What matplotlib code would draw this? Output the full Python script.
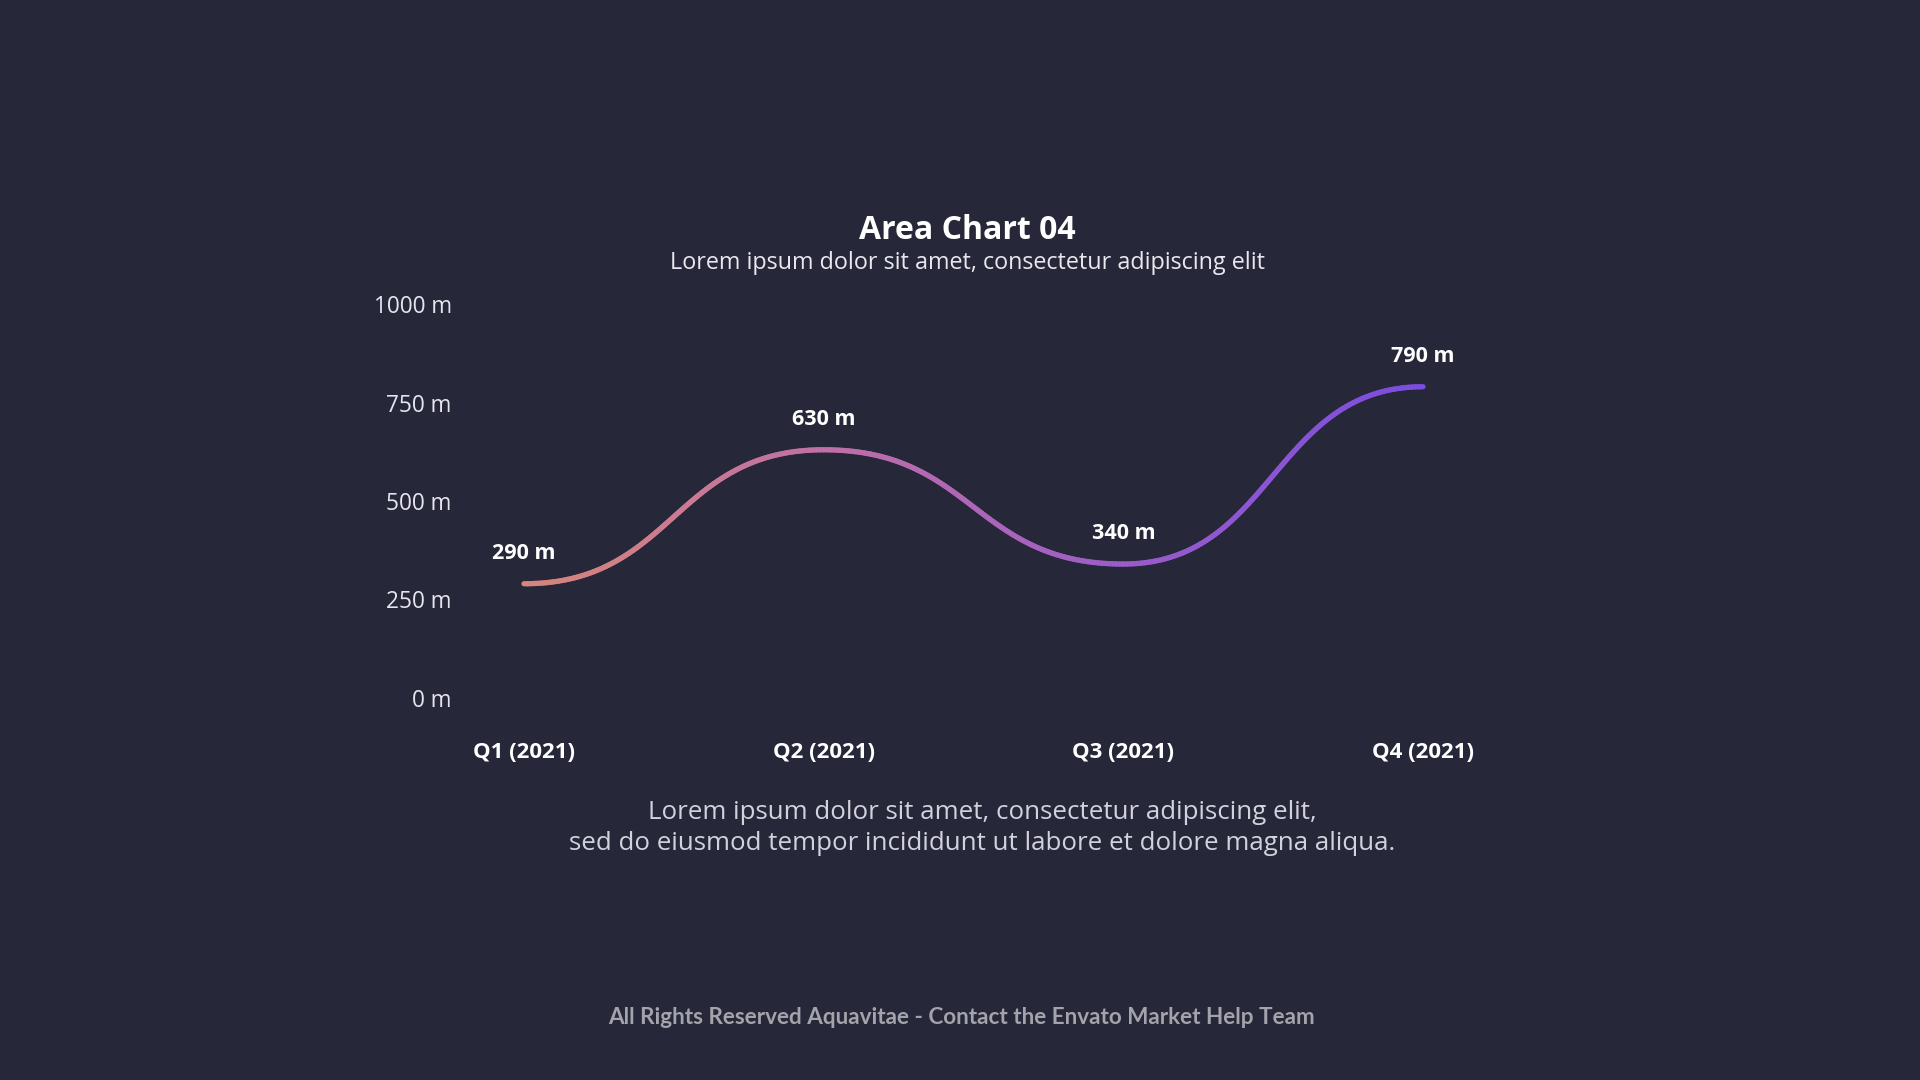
import numpy as np
import matplotlib.pyplot as plt
from matplotlib.collections import LineCollection
from matplotlib.colors import LinearSegmentedColormap

quarters = ["Q1 (2021)", "Q2 (2021)", "Q3 (2021)", "Q4 (2021)"]
values = [290, 630, 340, 790]
y_ticks = [0, 250, 500, 750, 1000]
y_labels = ["0 m", "250 m", "500 m", "750 m", "1000 m"]

bg = "#262739"
plt.rcParams["font.family"] = ["Open Sans", "DejaVu Sans"]

fig = plt.figure(figsize=(19.2, 10.8), dpi=100, facecolor=bg)
W, H = 1920, 1080
ax = fig.add_axes([524 / W, 1 - 698 / H, (1423 - 524) / W, (698 - 304) / H])
ax.set_facecolor("none")
ax.set_xlim(0, len(values) - 1)
ax.set_ylim(0, 1000)
for s in ax.spines.values():
    s.set_visible(False)

# smooth curve: cubic bezier between points with flat handles
xs = np.arange(len(values))
t = np.linspace(0, 1, 120)[:, None]
pts = []
for i in range(len(values) - 1):
    p0 = np.array([xs[i], values[i]])
    p3 = np.array([xs[i + 1], values[i + 1]])
    p1 = np.array([xs[i] + 0.5, values[i]])
    p2 = np.array([xs[i + 1] - 0.5, values[i + 1]])
    seg = ((1 - t) ** 3) * p0 + 3 * ((1 - t) ** 2) * t * p1 + 3 * (1 - t) * t ** 2 * p2 + t ** 3 * p3
    pts.append(seg if i == 0 else seg[1:])
pts = np.vstack(pts)

cmap = LinearSegmentedColormap.from_list("g", ["#d6867a", "#c070a6", "#9b5cc8", "#7b4ddf"])
segs = np.stack([pts[:-1], pts[1:]], axis=1)
lc = LineCollection(segs, cmap=cmap, linewidths=3.8, capstyle="round", clip_on=False)
lc.set_array((pts[:-1, 0] + pts[1:, 0]) / 2 / (len(values) - 1))
lc.set_clim(0, 1)
ax.add_collection(lc)

for x, v in zip(xs, values):
    ax.annotate(f"{v} m", (x, v), xytext=(0, 22), textcoords="offset points",
                ha="center", va="center", color="white", fontsize=15.5, fontweight="bold")

ax.set_yticks(y_ticks)
ax.set_yticklabels(y_labels, color="#e6e6ee", fontsize=16.3)
ax.tick_params(axis="y", length=0, pad=52)
for lab in ax.get_yticklabels():
    lab.set_ha("right")

ax.set_xticks(xs)
ax.set_xticklabels(quarters, color="white", fontsize=16, fontweight="bold")
ax.tick_params(axis="x", length=0, pad=32)

fig.text(967 / W, 1 - 230 / H, "Area Chart 04", ha="center", va="center",
         color="white", fontsize=23, fontweight="bold")
fig.text(967 / W, 1 - 263 / H, "Lorem ipsum dolor sit amet, consectetur adipiscing elit",
         ha="center", va="center", color="#e8e8ee", fontsize=16.8)
fig.text(982 / W, 1 - 828 / H,
         "Lorem ipsum dolor sit amet, consectetur adipiscing elit,\nsed do eiusmod tempor incididunt ut labore et dolore magna aliqua.",
         ha="center", va="center", color="#d2d2dc", fontsize=18.6, linespacing=1.28)
fig.text(961 / W, 1 - 1017 / H, "All Rights Reserved Aquavitae - Contact the Envato Market Help Team",
         ha="center", va="center", color="#a3a3ab", fontsize=16.2, fontweight="bold",
         family=["Lato", "DejaVu Sans"])

fig.savefig("out.png", dpi=100, facecolor=bg)
